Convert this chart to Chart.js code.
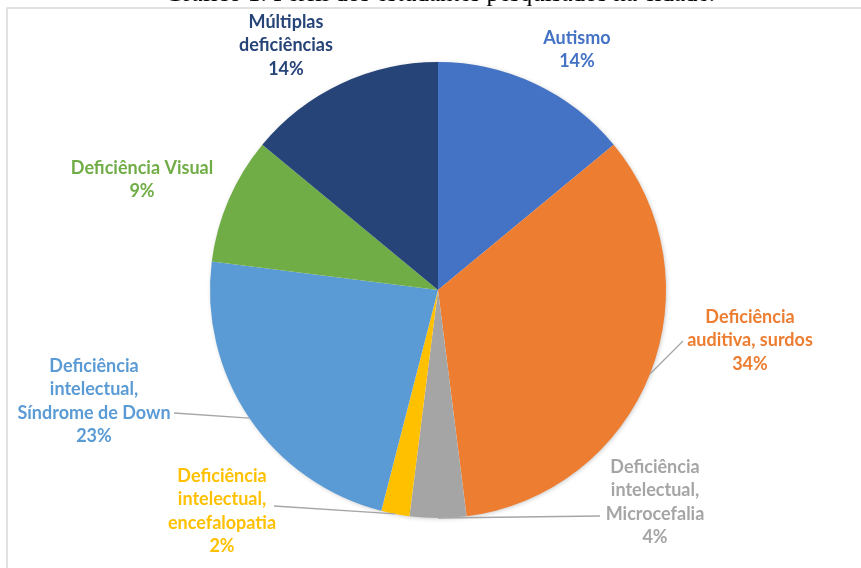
<!DOCTYPE html>
<html>
<head>
<meta charset="utf-8">
<script src="https://cdn.jsdelivr.net/npm/chart.js@4.4.1/dist/chart.umd.min.js"></script>
<style>
  html, body { margin: 0; padding: 0; background: #fff; }
  #wrap { width: 861px; height: 568px; position: relative; }
</style>
</head>
<body>
<div id="wrap"><canvas id="c" width="861" height="568"></canvas></div>
<script>
/* data */
var categories = [
  'Autismo',
  'Deficiência auditiva, surdos',
  'Deficiência intelectual, Microcefalia',
  'Deficiência intelectual, encefalopatia',
  'Deficiência intelectual, Síndrome de Down',
  'Deficiência Visual',
  'Múltiplas deficiências'
];
var percents = [14, 34, 4, 2, 23, 9, 14];
var labelLines = [
  ['Autismo'],
  ['Deficiência', 'auditiva, surdos'],
  ['Deficiência', 'intelectual,', 'Microcefalia'],
  ['Deficiência', 'intelectual,', 'encefalopatia'],
  ['Deficiência', 'intelectual,', 'Síndrome de Down'],
  ['Deficiência Visual'],
  ['Múltiplas', 'deficiências']
];
var titleText = 'Gráfico 1: Perfil dos estudantes pesquisados na cidade.';

var sliceColors = ['#4472C4', '#ED7D31', '#A5A5A5', '#FFC000', '#5B9BD5', '#70AD47', '#264478'];

/* label placement (center x, first line y) and leader anchors, Excel-style manual labels */
var labelPos = [
  { x: 577, y: 38 },
  { x: 750, y: 317, lead: { x: 683, y: 341 } },
  { x: 655, y: 467, lead: { x: 600, y: 516 } },
  { x: 222, y: 476, lead: { x: 274, y: 506 } },
  { x: 94,  y: 366, lead: { x: 174, y: 413 } },
  { x: 142, y: 168 },
  { x: 286, y: 22 }
];
var LINE_H = 23.5;
var FONT = 'bold 18px Lato, "Open Sans", sans-serif';

var framePlugin = {
  id: 'frame',
  beforeDraw: function (chart) {
    var ctx = chart.ctx;
    ctx.save();
    ctx.fillStyle = '#fff';
    ctx.fillRect(0, 0, chart.width, chart.height);
    // clipped caption from the page above
    ctx.fillStyle = '#000';
    ctx.font = '25px "Liberation Serif", "DejaVu Serif", serif';
    ctx.textAlign = 'center';
    ctx.textBaseline = 'alphabetic';
    ctx.fillText(titleText, 440, 1);
    // chart box
    ctx.strokeStyle = '#d9d9d9';
    ctx.lineWidth = 1.5;
    ctx.beginPath();
    ctx.moveTo(7, chart.height + 2);
    ctx.lineTo(7, 8);
    ctx.lineTo(chart.width + 2, 8);
    ctx.stroke();
    ctx.restore();
  },
  beforeDatasetsDraw: function (chart) {
    var arc = chart.getDatasetMeta(0).data[0];
    if (!arc) return;
    var ctx = chart.ctx;
    ctx.save();
    ctx.shadowColor = 'rgba(0,0,0,0.28)';
    ctx.shadowBlur = 5;
    ctx.shadowOffsetX = 1;
    ctx.shadowOffsetY = 1;
    ctx.fillStyle = '#fff';
    ctx.beginPath();
    ctx.arc(arc.x, arc.y, arc.outerRadius - 1, 0, Math.PI * 2);
    ctx.fill();
    ctx.restore();
  },
  afterDatasetsDraw: function (chart) {
    var ctx = chart.ctx;
    var meta = chart.getDatasetMeta(0);
    ctx.save();
    ctx.font = FONT;
    ctx.textAlign = 'center';
    ctx.textBaseline = 'middle';
    meta.data.forEach(function (arc, i) {
      var p = labelPos[i];
      var lines = labelLines[i].concat([percents[i] + '%']);
      ctx.fillStyle = sliceColors[i];
      lines.forEach(function (t, k) { ctx.fillText(t, p.x, p.y + k * LINE_H); });
      if (p.lead) {
        var mid = (arc.startAngle + arc.endAngle) / 2;
        var ex = arc.x + Math.cos(mid) * arc.outerRadius;
        var ey = arc.y + Math.sin(mid) * arc.outerRadius;
        ctx.strokeStyle = '#a6a6a6';
        ctx.lineWidth = 1.3;
        ctx.beginPath();
        ctx.moveTo(p.lead.x, p.lead.y);
        ctx.lineTo(ex, ey);
        ctx.stroke();
      }
    });
    ctx.restore();
  }
};

new Chart(document.getElementById('c'), {
  type: 'pie',
  data: {
    labels: categories,
    datasets: [{
      data: percents,
      backgroundColor: sliceColors,
      borderWidth: 0
    }]
  },
  options: {
    responsive: false,
    animation: false,
    layout: { padding: { top: 62, bottom: 50, left: 210, right: 195 } },
    plugins: { legend: { display: false }, tooltip: { enabled: false } }
  },
  plugins: [framePlugin]
});
</script>
</body>
</html>
